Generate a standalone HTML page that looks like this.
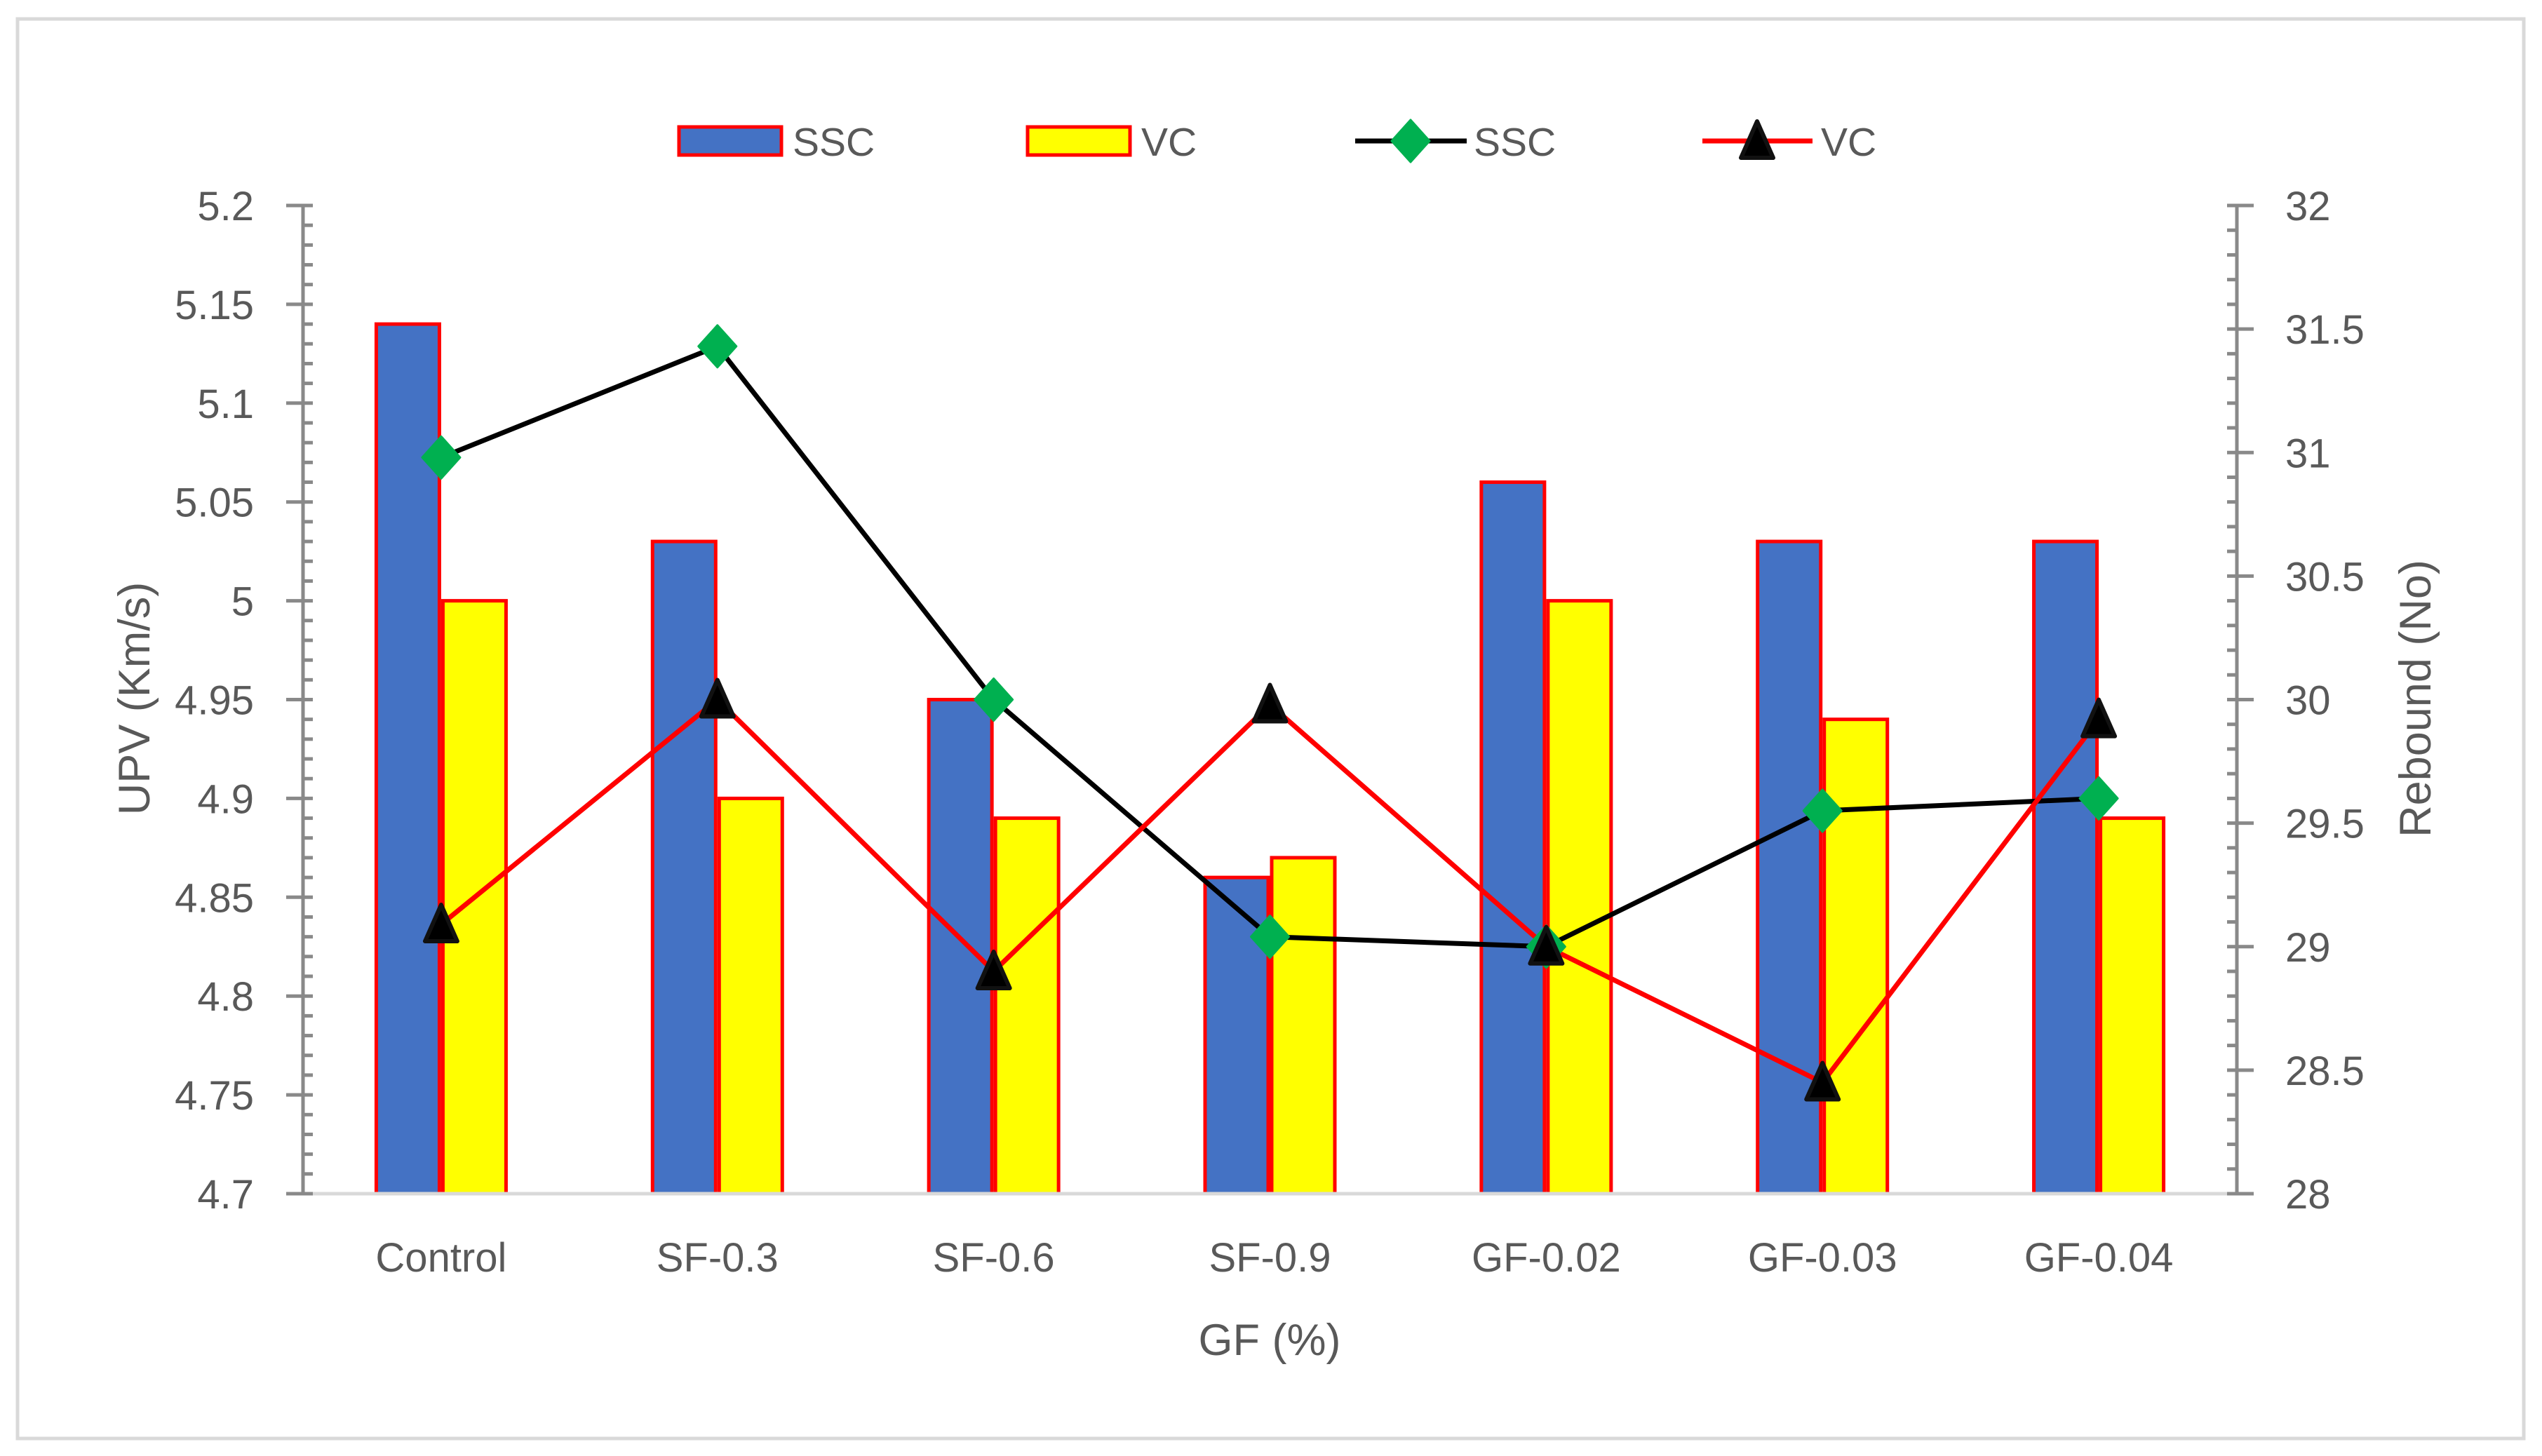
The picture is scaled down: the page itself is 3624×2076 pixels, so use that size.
<!DOCTYPE html>
<html><head><meta charset="utf-8"><style>
html,body{margin:0;padding:0;background:#fff;}
svg{display:block;font-family:"Liberation Sans",sans-serif;}
</style></head><body>
<svg id="chart" width="3624" height="2076" viewBox="0 0 3624 2076" xmlns="http://www.w3.org/2000/svg">
<rect x="25" y="27" width="3573" height="2024" fill="#fff" stroke="#d9d9d9" stroke-width="5"/>
<g id="gbars"></g>
<g id="gaxes"></g>
<g id="glines"></g>
<g id="glegend"></g>
<text x="1810" y="1932" font-size="63" fill="#595959" text-anchor="middle">GF (%)</text>
<text transform="translate(213,996) rotate(-90)" font-size="63" fill="#595959" text-anchor="middle">UPV (Km/s)</text>
<text transform="translate(3465,996) rotate(-90)" font-size="63" fill="#595959" text-anchor="middle">Rebound (No)</text>
</svg>
<script>
const categories = ["Control","SF-0.3","SF-0.6","SF-0.9","GF-0.02","GF-0.03","GF-0.04"];
const upvSSC = [5.14,5.03,4.95,4.86,5.06,5.03,5.03];
const upvVC = [5.00,4.90,4.89,4.87,5.00,4.94,4.89];
const reboundSSC = [30.98,31.43,30.0,29.04,29.0,29.55,29.6];
const reboundVC = [29.09,30.0,28.9,29.98,29.0,28.45,29.92];
const leftTicks = ["4.7","4.75","4.8","4.85","4.9","4.95","5","5.05","5.1","5.15","5.2"];
const rightTicks = ["28","28.5","29","29.5","30","30.5","31","31.5","32"];

const NS="http://www.w3.org/2000/svg";
const L=432,R=3189,T=293,B=1702;
const band=(R-L)/categories.length;
const barW=95;
const xC=i=>L+band*(i+0.5);
const yL=v=>B-(v-4.7)/(5.2-4.7)*(B-T);
const yR=v=>B-(v-28)/(32-28)*(B-T);
function mk(tag,attrs,parent){const e=document.createElementNS(NS,tag);for(const k in attrs)e.setAttribute(k,attrs[k]);parent.appendChild(e);return e;}
const gb=document.getElementById('gbars'),ga=document.getElementById('gaxes'),gl=document.getElementById('glines'),gg=document.getElementById('glegend');

const base=mk('line',{x1:L,x2:R,y1:B,y2:B,stroke:'#d9d9d9','stroke-width':5},ga);



categories.forEach((c,i)=>{
  const cx=xC(i);
  const b1=mk('rect',{x:cx-barW+2.5,y:yL(upvSSC[i]),width:barW-5,height:B-yL(upvSSC[i]),fill:'#4472c4',stroke:'#ff0000','stroke-width':5},gb);
  
  
  const b2=mk('rect',{x:cx+2.5,y:yL(upvVC[i]),width:barW-5,height:B-yL(upvVC[i]),fill:'#ffff00',stroke:'#ff0000','stroke-width':5},gb);
  
  
  const t=mk('text',{x:cx,y:1813,'font-size':58,fill:'#595959','text-anchor':'middle'},ga);
  t.textContent=c;
  
  
});

const la=mk('line',{x1:L,x2:L,y1:T,y2:B,stroke:'#898989','stroke-width':5},ga);


for(let k=0;k<=50;k++){
  const y=B-(B-T)*k/50;
  const major=k%5===0;
  mk('line',{x1:major?L-24:L,x2:L+14,y1:y,y2:y,stroke:'#898989','stroke-width':5},ga);
}
leftTicks.forEach((s,i)=>{
  const t=mk('text',{x:362,y:yL(parseFloat(s))+21,'font-size':58,fill:'#595959','text-anchor':'end'},ga);
  t.textContent=s;
  
  
});
const ra=mk('line',{x1:R,x2:R,y1:T,y2:B,stroke:'#898989','stroke-width':5},ga);


for(let k=0;k<=40;k++){
  const y=B-(B-T)*k/40;
  const major=k%5===0;
  mk('line',{x1:R-14,x2:major?R+24:R,y1:y,y2:y,stroke:'#898989','stroke-width':5},ga);
}
rightTicks.forEach(s=>{
  const t=mk('text',{x:3258,y:yR(parseFloat(s))+21,'font-size':58,fill:'#595959','text-anchor':'start'},ga);
  t.textContent=s;
  
  
});

function diamond(cx,cy,p,name){const d=mk('polygon',{points:`${cx},${cy-30} ${cx+27},${cy} ${cx},${cy+30} ${cx-27},${cy}`,fill:'#00b050',stroke:'#00b050','stroke-width':3,'stroke-linejoin':'round'},p);}
function tri(cx,cy,p,name){const d=mk('polygon',{points:`${cx},${cy-28} ${cx+23},${cy+24} ${cx-23},${cy+24}`,fill:'#000',stroke:'#111','stroke-width':6,'stroke-linejoin':'round'},p);}

const pS=mk('polyline',{points:reboundSSC.map((v,i)=>xC(i)+','+yR(v)).join(' '),fill:'none',stroke:'#000','stroke-width':7},gl);


const pV=mk('polyline',{points:reboundVC.map((v,i)=>xC(i)+','+yR(v)).join(' '),fill:'none',stroke:'#ff0000','stroke-width':7},gl);


reboundSSC.forEach((v,i)=>diamond(xC(i),yR(v),gl,'marker-rebound-ssc'));
reboundVC.forEach((v,i)=>tri(xC(i),yR(v),gl,'marker-rebound-vc'));

const ly=201;
const r1=mk('rect',{x:968,y:ly-20,width:146,height:40,fill:'#4472c4',stroke:'#ff0000','stroke-width':5},gg);


const r2=mk('rect',{x:1465,y:ly-20,width:146,height:40,fill:'#ffff00',stroke:'#ff0000','stroke-width':5},gg);


const l1=mk('line',{x1:1932,x2:2091,y1:ly,y2:ly,stroke:'#000','stroke-width':7},gg);


diamond(2011,ly,gg,'legend-marker-ssc');
const l2=mk('line',{x1:2427,x2:2584,y1:ly,y2:ly,stroke:'#ff0000','stroke-width':7},gg);


tri(2505,ly,gg,'legend-marker-vc');
[[1130,'SSC'],[1627,'VC'],[2101,'SSC'],[2596,'VC']].forEach(([x,s])=>{
  const t=mk('text',{x:x,y:ly+21,'font-size':57,fill:'#595959'},gg);
  t.textContent=s;
  
  
});
</script>
</body></html>
